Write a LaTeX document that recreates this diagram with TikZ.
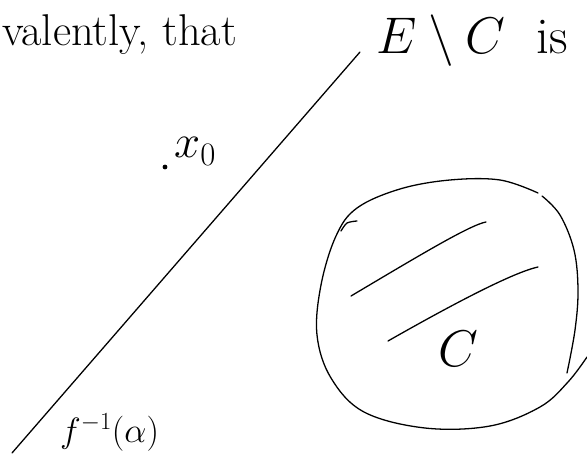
\RequirePackage{fix-cm}
\documentclass[tikz,border=0pt]{standalone}
\usepackage{amsmath,amssymb}
\usetikzlibrary{positioning}
\tikzset{
  stroke/.style={line width=1.1pt, line cap=round, line join=round, black},
  scrawl/.style={font=\fontsize{38}{42}\selectfont, inner sep=0pt, anchor=base west},
  mathscrawl/.style={font=\fontsize{30}{34}\selectfont, inner sep=0pt, anchor=base west},
  bigscrawl/.style={font=\fontsize{44}{48}\selectfont, inner sep=0pt, anchor=base west}
}
\begin{document}
\begin{tikzpicture}[x=0.03cm, y=-0.03cm]
  \useasboundingbox (0,0) rectangle (587,454);

  % Top line of text
  \node[scrawl] (lead) at (2,46) {valently, that};
  \node[bigscrawl] (claim) at (376,54) {$E \setminus C$\ \ is};

  % The level set
  \coordinate (lineA) at (12,453);
  \coordinate (lineB) at (360,52);
  \draw[stroke] (lineA) -- (lineB);
  \node[mathscrawl] (level) at (60,442) {$f^{-1}(\alpha)$};

  % The point
  \fill (165,167) circle (2.4);
  \node[bigscrawl, font=\fontsize{40}{44}\selectfont] (pt) at (174,158) {$x_0$};

  % The blob C
  \draw[stroke] plot[smooth, tension=0.6] coordinates {
    (538,193) (500,180) (450,180) (400,189) (357,208) (336,236)
    (321,285) (317,335) (331,378) (364,412) (425,428) (490,426)
    (540,407) (568,382) (587,357)};
  \draw[stroke] plot[smooth, tension=0.6] coordinates {
    (542,196) (560,215) (574,250) (578,290) (575,330) (567,373)};
  \draw[stroke] plot[smooth] coordinates {(341,231) (347,223) (357,221)};

  % Shading strokes
  \draw[stroke] (351,296) .. controls (420,255) and (470,225) .. (486,222);
  \draw[stroke] (388,341) .. controls (460,300) and (515,272) .. (538,267);
  \node[bigscrawl] (cname) at (438,366) {$C$};
\end{tikzpicture}
\end{document}
